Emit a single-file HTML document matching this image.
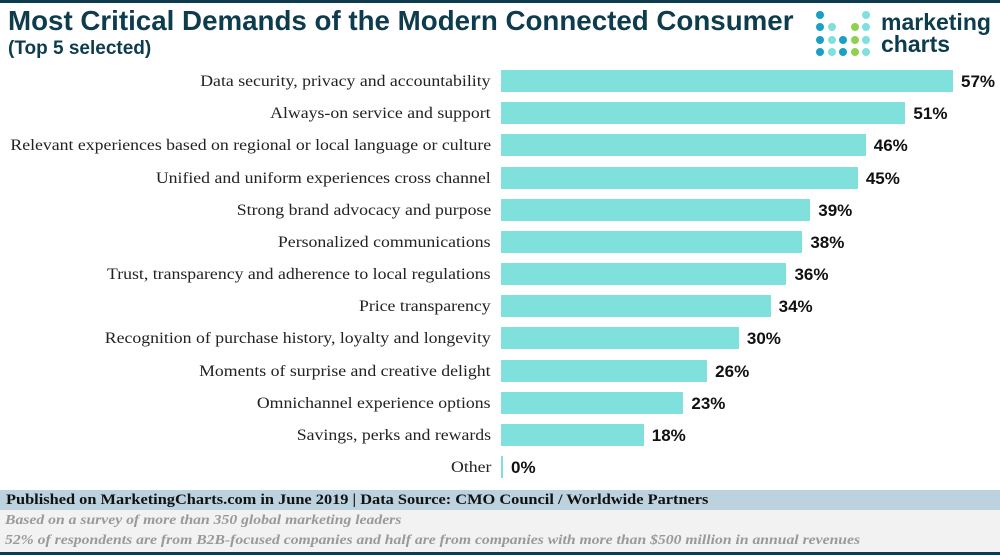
<!DOCTYPE html><html><head><style>
body{margin:0;width:1000px;height:555px;overflow:hidden;background:#fff;position:relative;font-family:"Liberation Sans",sans-serif}
.top{position:absolute;left:0;top:0;width:1000px;height:3px;background:#0d3c4e}
h1{position:absolute;left:8px;top:5px;margin:0;font-size:28px;font-weight:bold;color:#0d3c4e;white-space:nowrap;transform:scaleX(0.99);transform-origin:left center}
h2{position:absolute;left:8px;top:38px;margin:0;font-size:19px;font-weight:bold;color:#0d3c4e}
.lbl{position:absolute;right:509px;font-family:"Liberation Serif",serif;font-size:16px;color:#222;white-space:nowrap;transform:scaleX(1.11);transform-origin:right center}
.bar{position:absolute;left:501px;height:22px;background:#7fe0dc}
.val{position:absolute;font-size:17px;font-weight:bold;color:#111}
.pub{position:absolute;left:0;top:490px;width:1000px;height:20px;background:#bcd2de;font-family:"Liberation Serif",serif;font-weight:bold;font-size:15px;line-height:20px;box-sizing:border-box;color:#111}
.pub span{display:inline-block;transform:scaleX(1.09);transform-origin:left center;margin-left:6px;white-space:nowrap}
.note{position:absolute;left:0;top:510px;width:1000px;height:42px;background:#f2f2f2;font-family:"Liberation Serif",serif;font-style:italic;font-weight:bold;font-size:14px;color:#999;box-sizing:border-box;line-height:20px;padding-top:1px}
.note span{display:block;transform:scaleX(1.12);transform-origin:left center;margin-left:5px;white-space:nowrap}
.bot{position:absolute;left:0;top:552px;width:1000px;height:3px;background:#0d3c4e}
.logo{position:absolute;left:881px;top:11px;font-size:23px;font-weight:bold;color:#0d3c4e;line-height:22px}
.d{position:absolute;width:8px;height:8px;border-radius:50%}
</style></head><body>
<div class="top"></div>
<h1>Most Critical Demands of the Modern Connected Consumer</h1>
<h2>(Top 5 selected)</h2>
<div class="logo">marketing<br>charts</div>
<div id="dots"></div>
<div id="c"></div>
<div class="pub"><span>Published on MarketingCharts.com in June 2019 | Data Source: CMO Council / Worldwide Partners</span></div>
<div class="note"><span>Based on a survey of more than 350 global marketing leaders</span><span>52% of respondents are from B2B-focused companies and half are from companies with more than $500 million in annual revenues</span></div>
<div class="bot"></div>
<script>
var d=[["Data security, privacy and accountability",57],["Always-on service and support",51],["Relevant experiences based on regional or local language or culture",46],["Unified and uniform experiences cross channel",45],["Strong brand advocacy and purpose",39],["Personalized communications",38],["Trust, transparency and adherence to local regulations",36],["Price transparency",34],["Recognition of purchase history, loyalty and longevity",30],["Moments of surprise and creative delight",26],["Omnichannel experience options",23],["Savings, perks and rewards",18],["Other",0]];
var h="";d.forEach(function(r,i){var c=81+i*32.17;var w=Math.max(r[1]*7.93,2);
h+='<div class="lbl" style="top:'+(c-8)+'px">'+r[0]+'</div><div class="bar" style="top:'+(c-11)+'px;width:'+w+'px"></div><div class="val" style="top:'+(c-9)+'px;left:'+(501+w+8)+'px">'+r[1]+'%</div>';});
document.getElementById("c").innerHTML=h;
var cols=[["#1a9fc7",null,null,null,"#7fe0dc"],["#1a9fc7","#7fe0dc",null,"#8fd14f","#7fe0dc"],["#1a9fc7","#7fe0dc","#1a9fc7","#8fd14f","#7fe0dc"],["#1a9fc7","#7fe0dc","#1a9fc7","#8fd14f","#7fe0dc"]];
var g="";cols.forEach(function(row,ri){row.forEach(function(c,ci){if(c)g+='<div class="d" style="left:'+(816+ci*11.5)+'px;top:'+(11+ri*12.3)+'px;background:'+c+'"></div>';});});
document.getElementById("dots").innerHTML=g;
</script>
</body></html>
